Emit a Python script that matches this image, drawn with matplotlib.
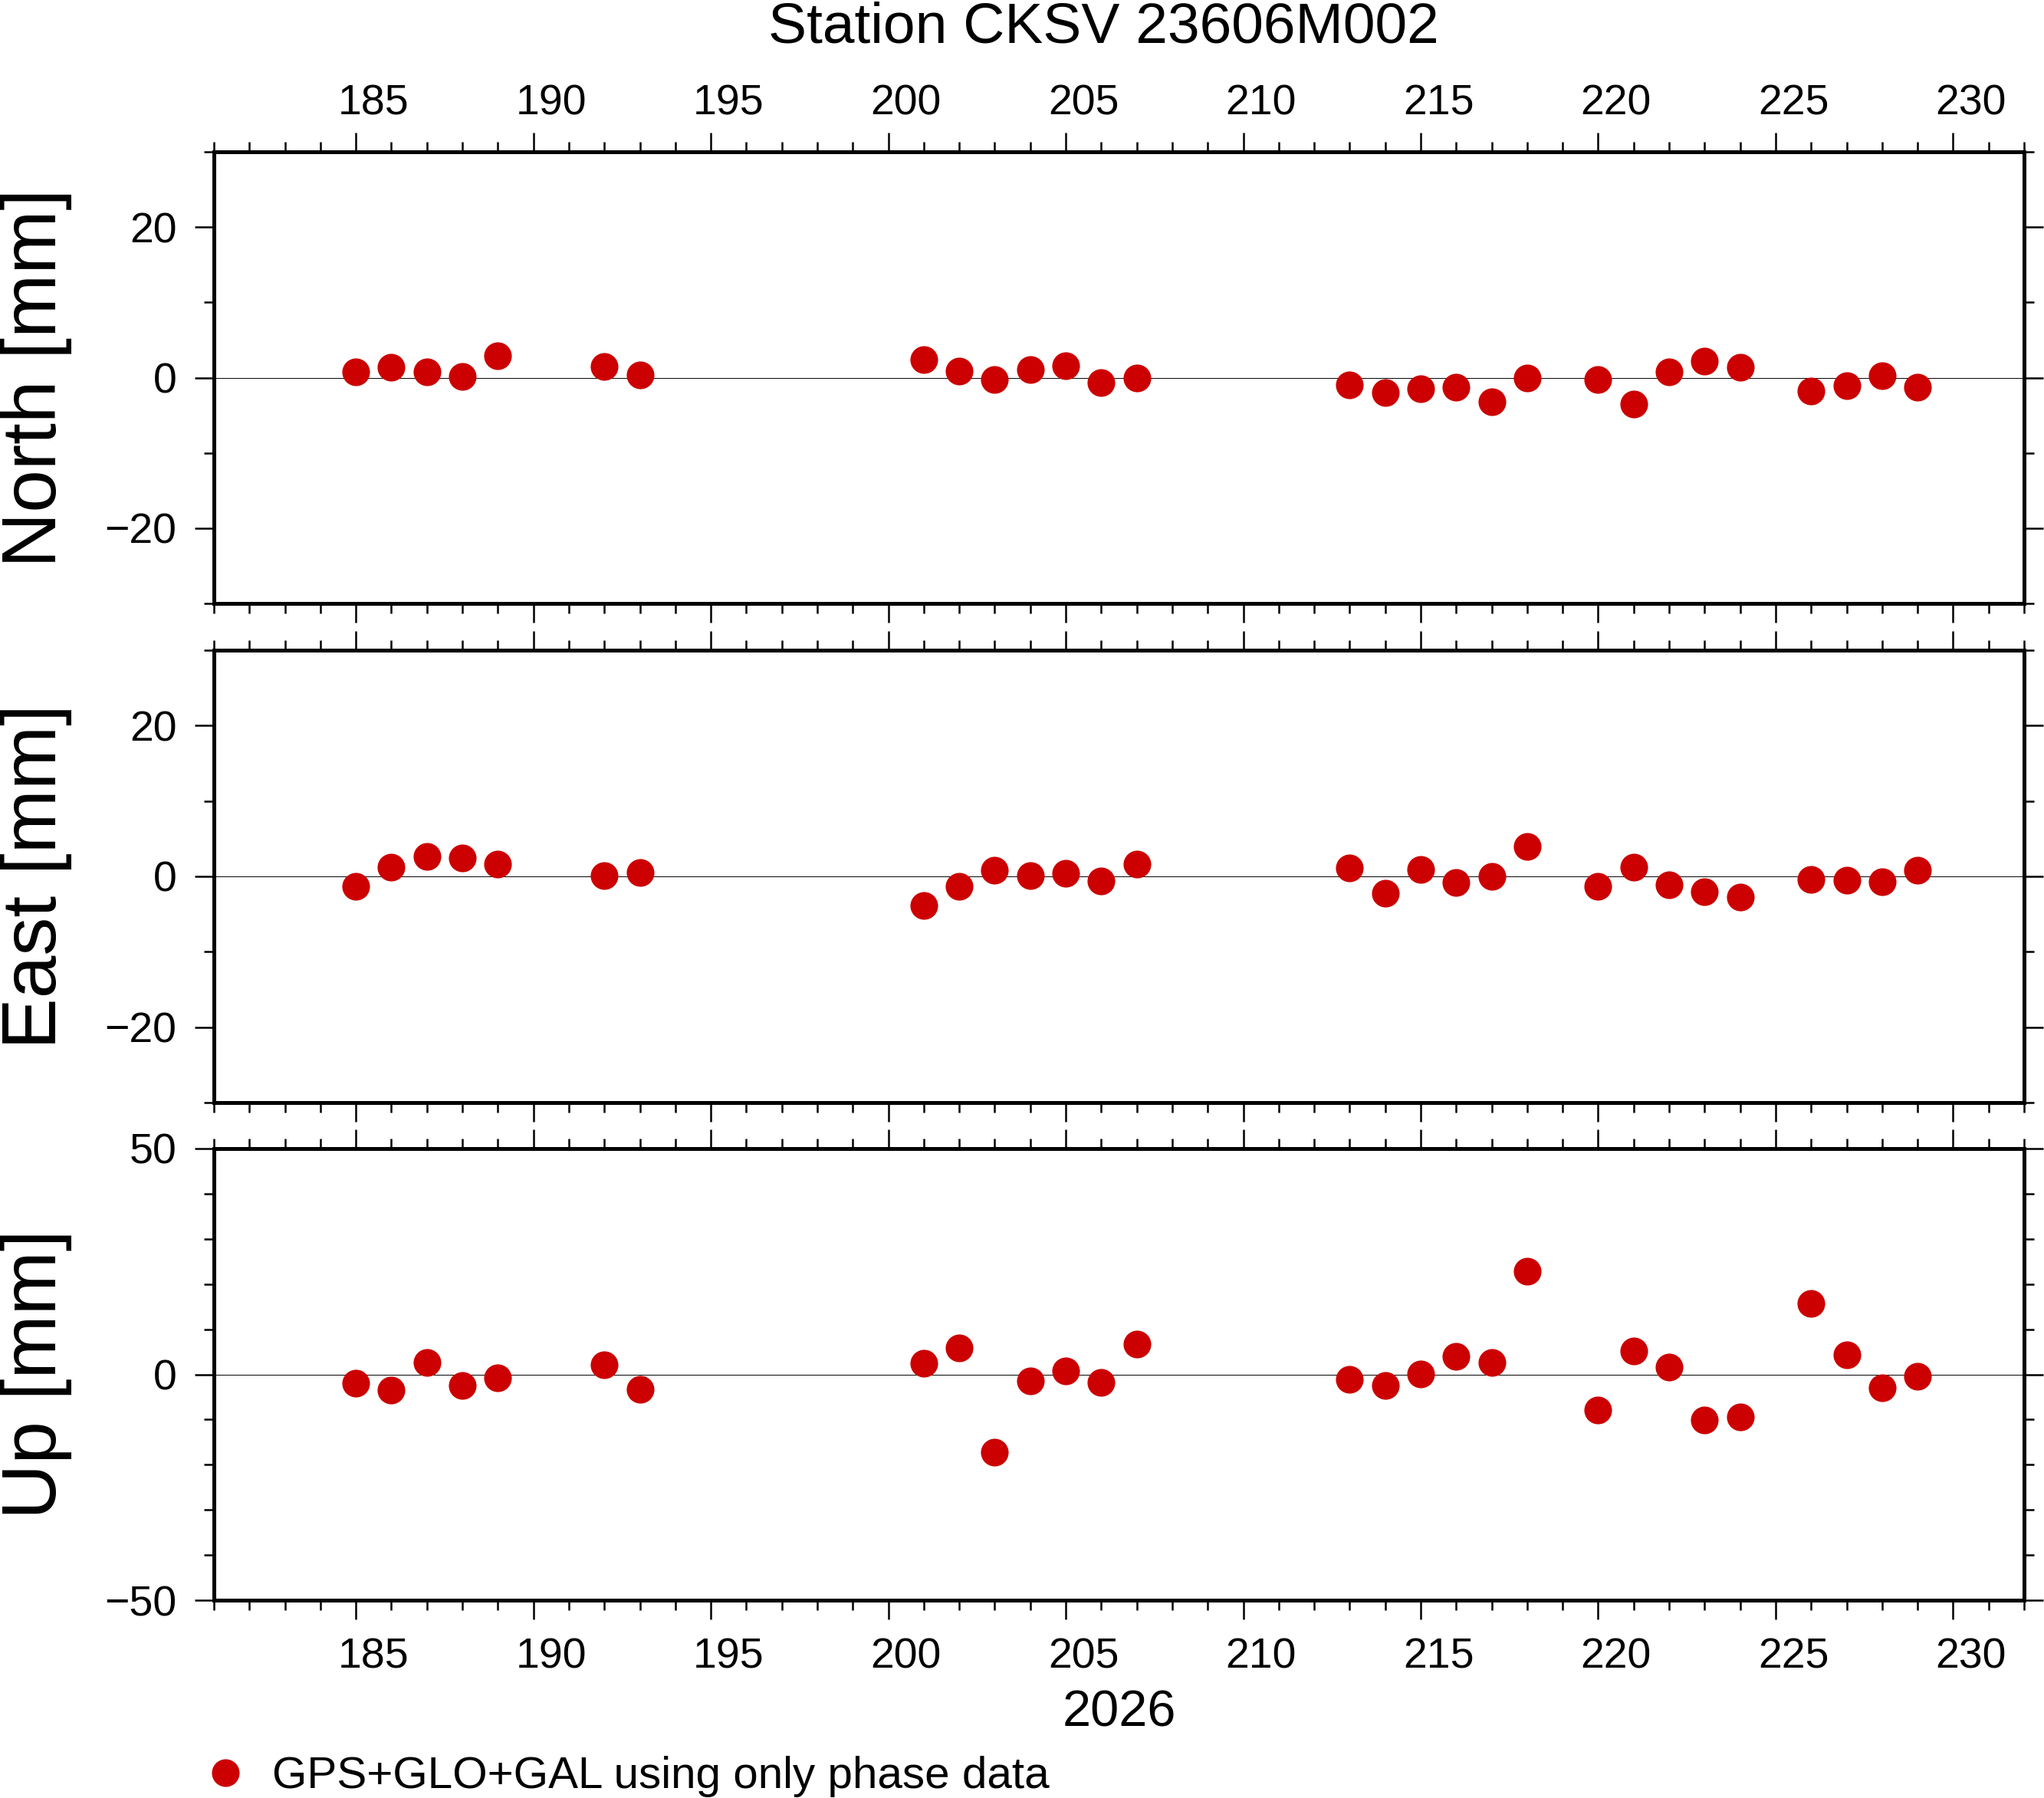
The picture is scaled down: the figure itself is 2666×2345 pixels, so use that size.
import matplotlib
matplotlib.use("Agg")
import matplotlib.pyplot as plt
from matplotlib.ticker import MultipleLocator
from matplotlib.transforms import ScaledTranslation

plt.rcParams['font.family'] = ['Liberation Sans', 'DejaVu Sans']

# day of year 2026
days = [185, 186, 187, 188, 189, 192, 193, 201, 202, 203, 204, 205, 206, 207,
        213, 214, 215, 216, 217, 218, 220, 221, 222, 223, 224, 226, 227, 228, 229]

north = [0.8, 1.4, 0.75, 0.15, 2.9, 1.5, 0.4, 2.4, 0.85, -0.3, 1.1, 1.6, -0.65, 0.0,
         -1.0, -2.0, -1.5, -1.3, -3.2, 0.0, -0.3, -3.5, 0.8, 2.2, 1.4, -1.75, -1.1, 0.3, -1.3]
east = [-1.3, 1.25, 2.65, 2.45, 1.6, 0.1, 0.5, -3.85, -1.3, 0.8, 0.1, 0.4, -0.6, 1.65,
        1.15, -2.2, 0.95, -0.8, 0.0, 3.95, -1.3, 1.25, -1.1, -2.0, -2.75, -0.4, -0.5, -0.7, 0.8]
up = [-2.0, -3.5, 2.6, -2.4, -0.8, 2.1, -3.3, 2.4, 5.8, -17.3, -1.5, 0.8, -1.7, 6.7,
      -1.1, -2.5, 0.1, 4.0, 2.7, 22.9, -7.9, 5.1, 1.6, -10.1, -9.4, 15.7, 4.3, -2.9, -0.5]

panels = [("North [mm]", north, 30, 20), ("East [mm]", east, 30, 20), ("Up [mm]", up, 50, 50)]
title = "Station CKSV 23606M002"
year = "2026"
legend_label = "GPS+GLO+GAL using only phase data"

RED = (0.8, 0.0, 0.0)
W, H = 2666, 2345
X0, X1 = 181, 232

fig = plt.figure(figsize=(W / 100, H / 100), dpi=100)

# panel boxes in pixels (top, bottom)
boxes = [(198, 787), (848, 1438), (1498, 2087)]
left, right = 279, 2640
# day labels sit in the middle of the day interval (GMT style)
half_day = (right - left) / (X1 - X0) / 2 / 100
shift = ScaledTranslation(half_day, 0, fig.dpi_scale_trans)

for i, ((lab, vals, lim, major), (top, bot)) in enumerate(zip(panels, boxes)):
    ax = fig.add_axes([left / W, 1 - bot / H, (right - left) / W, (bot - top) / H])
    ax.axhline(0, color='k', lw=0.7, zorder=1)
    pts, = ax.plot(days, vals, 'o', ms=26, color=RED, mec='none', zorder=3,
                   label=legend_label)
    ax.set_xlim(X0, X1)
    ax.set_ylim(-lim, lim)
    ax.xaxis.set_major_locator(MultipleLocator(5))
    ax.xaxis.set_minor_locator(MultipleLocator(1))
    ax.yaxis.set_major_locator(MultipleLocator(major))
    ax.yaxis.set_minor_locator(MultipleLocator(10))
    for s in ax.spines.values():
        s.set_linewidth(3.6)
    ax.tick_params(which='both', direction='out', top=True, right=True,
                   width=1.8, labelsize=40)
    ax.tick_params(which='major', length=18)
    ax.tick_params(which='minor', length=9.4)
    ax.tick_params(axis='x', pad=17, labelbottom=(i == 2), labeltop=(i == 0))
    ax.tick_params(axis='y', pad=17)
    for t in ax.xaxis.get_major_ticks():
        t.label1.set_transform(t.label1.get_transform() + shift)
        t.label2.set_transform(t.label2.get_transform() + shift)
        t.label2.set_va('baseline')
    fig.text(47 / W, 1 - (top + bot) / 2 / H, lab, rotation=90,
             ha='center', va='center', fontsize=72)
    if i == 2:
        handle = pts

fig.text(1439 / W, 1 - 56 / H, title, ha='center', va='baseline', fontsize=54)
fig.text((left + right) / 2 / W, 1 - 2252 / H, year, ha='center', va='baseline', fontsize=48)

fig.legend([handle], [legend_label], loc='center left',
           bbox_to_anchor=(265 / W, 1 - 2317 / H), frameon=False, fontsize=42,
           handlelength=1.0, handletextpad=0.55, borderpad=0, borderaxespad=0)

fig.savefig("out.png", dpi=100)
